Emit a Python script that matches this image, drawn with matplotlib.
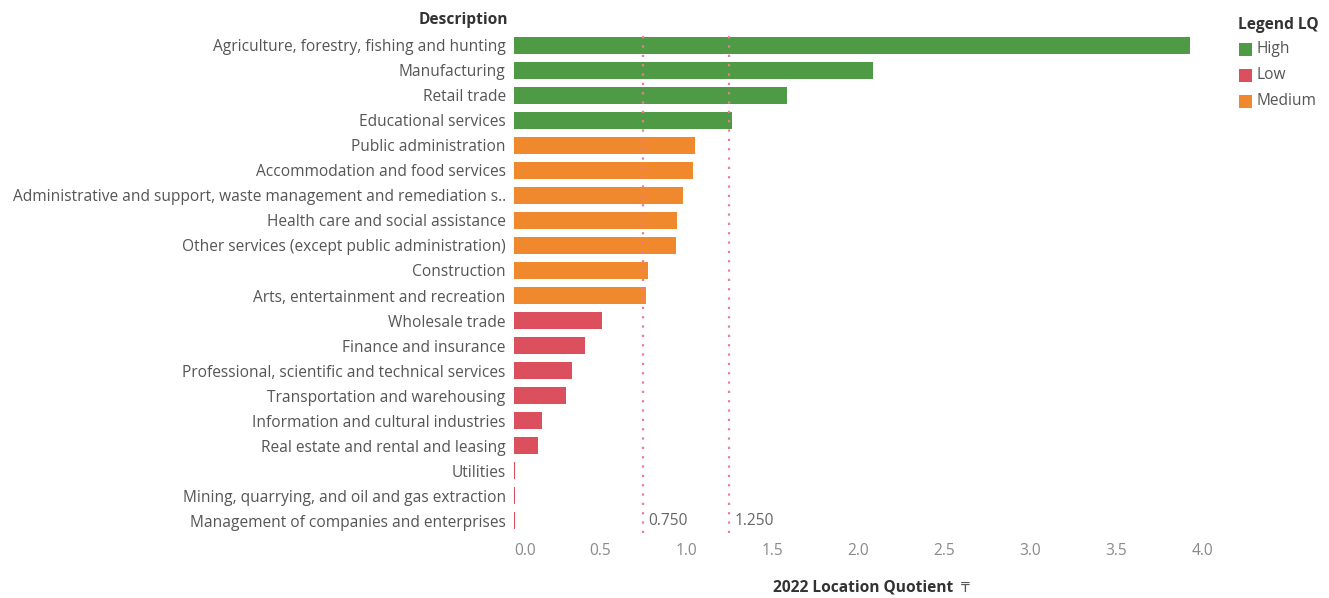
import matplotlib
matplotlib.use("Agg")
import matplotlib.pyplot as plt
from matplotlib.patches import Rectangle

categories = [
    "Agriculture, forestry, fishing and hunting",
    "Manufacturing",
    "Retail trade",
    "Educational services",
    "Public administration",
    "Accommodation and food services",
    "Administrative and support, waste management and remediation s..",
    "Health care and social assistance",
    "Other services (except public administration)",
    "Construction",
    "Arts, entertainment and recreation",
    "Wholesale trade",
    "Finance and insurance",
    "Professional, scientific and technical services",
    "Transportation and warehousing",
    "Information and cultural industries",
    "Real estate and rental and leasing",
    "Utilities",
    "Mining, quarrying, and oil and gas extraction",
    "Management of companies and enterprises",
]
values = [3.93, 2.09, 1.59, 1.27, 1.05, 1.04, 0.98, 0.95, 0.94, 0.78, 0.77,
          0.51, 0.41, 0.34, 0.30, 0.16, 0.14, 0.006, 0.005, 0.004]
levels = ["High"] * 4 + ["Medium"] * 7 + ["Low"] * 9
ref_lines = [0.75, 1.25]
ref_labels = ["0.750", "1.250"]
xticks = [0.0, 0.5, 1.0, 1.5, 2.0, 2.5, 3.0, 3.5, 4.0]

colors = {"High": "#4f9a45", "Low": "#dc4f5c", "Medium": "#f0892d"}
legend_order = ["High", "Low", "Medium"]

plt.rcParams['font.family'] = ['Open Sans', 'DejaVu Sans']
FS = 11.2

W, H = 1329, 598
fig = plt.figure(figsize=(W / 100, H / 100), dpi=100)
x0_px = 514
unit = 172
xmax = 4.15
ax_w = xmax * unit
n = len(categories)
row = 26.33
top_px = 46 - row / 2
bot_px = 520 + row / 2
ax = fig.add_axes([x0_px / W, 1 - bot_px / H, ax_w / W, (bot_px - top_px) / H])

y = list(range(n))
ax.barh(y, values, height=0.70, color=[colors[l] for l in levels])
ax.set_ylim(n - 0.5, -0.5)
ax.set_xlim(0, xmax)
ax.set_yticks(y)
ax.set_yticklabels(categories, fontsize=FS, color="#555555")
ax.set_xticks(xticks)
xl = ax.set_xticklabels([f"{t:.1f}" for t in xticks], fontsize=FS, color="#8a8a8a")
xl[0].set_horizontalalignment("left")
ax.tick_params(axis='both', length=0)
ax.tick_params(axis='x', pad=7)
ax.tick_params(axis='y', pad=6)
for s in ax.spines.values():
    s.set_visible(False)

for rv, rl in zip(ref_lines, ref_labels):
    ax.axvline(rv, color="#f07a96", lw=1.6, ls=(0, (1, 3.2)), zorder=3)
    ax.text(rv + 0.03, n - 1, rl, fontsize=FS, color="#666666", va="center", ha="left")

fig.text(508 / W, 1 - 20 / H, "Description", fontsize=FS, fontweight="bold",
         color="#333333", ha="right", va="center")
fig.text(865 / W, 1 - 588 / H, "2022 Location Quotient ", fontsize=FS, fontweight="bold",
         color="#333333", ha="center", va="center")
fig.text(965 / W, 1 - 588 / H, "\u20b8", fontsize=10, color="#555555", ha="center", va="center",
         family=['DejaVu Sans'])

# legend
fig.text(1238 / W, 1 - 25 / H, "Legend LQ", fontsize=FS, fontweight="bold",
         color="#333333", ha="left", va="center")
for i, k in enumerate(legend_order):
    yc = 49 + 26 * i
    fig.add_artist(Rectangle((1239 / W, 1 - (yc + 6.5) / H), 13 / W, 13 / H,
                             transform=fig.transFigure, facecolor=colors[k], edgecolor="none"))
    fig.text(1257 / W, 1 - yc / H, k, fontsize=FS, color="#555555", ha="left", va="center")

fig.savefig("out.png", dpi=100)
